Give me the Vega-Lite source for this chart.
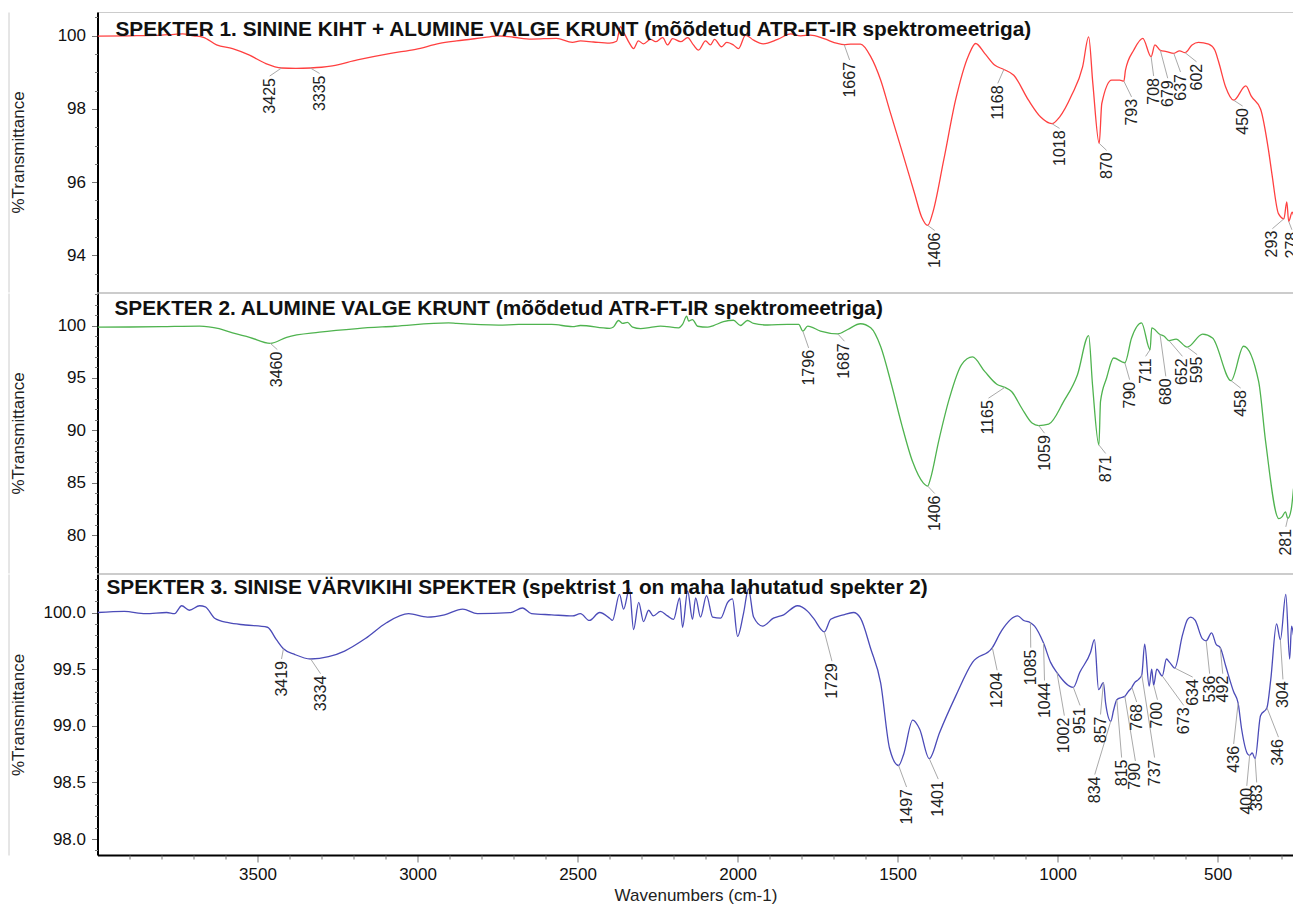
{
  "$schema": "https://vega.github.io/schema/vega-lite/v6.json",
  "padding": {"left": 7.5, "top": 11, "right": 0, "bottom": 0},
  "spacing": -3,
  "config": {
    "font": "Liberation Sans",
    "view": {"stroke": "#cccccc", "strokeWidth": 1},
    "axis": {
      "grid": false,
      "labelFontSize": 17,
      "labelColor": "#111111",
      "titleFontSize": 17,
      "titleFontWeight": "normal",
      "titleColor": "#222222",
      "domainColor": "#000000",
      "domainWidth": 2,
      "tickColor": "#777777",
      "tickWidth": 1,
      "labelOverlap": false,
      "labelFlush": false,
      "labelBound": false
    },
    "title": {"font": "Liberation Sans", "fontSize": 20.8, "fontWeight": "bold", "color": "#111111", "anchor": "start", "frame": "group", "baseline": "alphabetic"}
  },
  "datasets": {
    "s1": [
      {"w":4000,"t":99.99},{"w":3900,"t":100.0},{"w":3800,"t":100.02},{"w":3760,"t":100.04},{"w":3734,"t":100.05},{"w":3700,"t":100.0},{"w":3669,"t":99.96},{"w":3628,"t":99.75},{"w":3578,"t":99.65},{"w":3525,"t":99.47},{"w":3474,"t":99.24},{"w":3425,"t":99.12},{"w":3380,"t":99.11},{"w":3335,"t":99.12},{"w":3300,"t":99.14},{"w":3266,"t":99.18},{"w":3188,"t":99.34},{"w":3084,"t":99.52},{"w":3006,"t":99.63},{"w":2931,"t":99.79},{"w":2878,"t":99.86},{"w":2775,"t":99.97},{"w":2750,"t":100.0},{"w":2700,"t":99.96},{"w":2644,"t":99.91},{"w":2566,"t":99.93},{"w":2516,"t":99.82},{"w":2491,"t":99.86},{"w":2450,"t":99.83},{"w":2400,"t":99.8},{"w":2378,"t":99.85},{"w":2366,"t":100.25},{"w":2356,"t":100.1},{"w":2338,"t":99.8},{"w":2325,"t":99.65},{"w":2310,"t":99.86},{"w":2294,"t":99.78},{"w":2272,"t":99.9},{"w":2256,"t":99.84},{"w":2234,"t":99.95},{"w":2219,"t":99.75},{"w":2203,"t":99.92},{"w":2178,"t":99.84},{"w":2156,"t":99.95},{"w":2138,"t":99.75},{"w":2122,"t":99.61},{"w":2100,"t":99.86},{"w":2085,"t":99.75},{"w":2072,"t":99.9},{"w":2050,"t":99.7},{"w":2034,"t":99.82},{"w":2013,"t":99.75},{"w":1997,"t":99.65},{"w":1975,"t":100.02},{"w":1950,"t":99.88},{"w":1920,"t":99.78},{"w":1875,"t":99.9},{"w":1834,"t":100.05},{"w":1803,"t":100.0},{"w":1772,"t":100.02},{"w":1730,"t":99.92},{"w":1688,"t":99.79},{"w":1667,"t":99.76},{"w":1647,"t":99.77},{"w":1616,"t":99.77},{"w":1584,"t":99.43},{"w":1553,"t":98.79},{"w":1525,"t":97.97},{"w":1487,"t":96.87},{"w":1447,"t":95.69},{"w":1425,"t":95.05},{"w":1406,"t":94.82},{"w":1391,"t":95.14},{"w":1356,"t":96.6},{"w":1319,"t":98.24},{"w":1278,"t":99.47},{"w":1256,"t":99.79},{"w":1228,"t":99.52},{"w":1197,"t":99.2},{"w":1168,"t":99.08},{"w":1137,"t":98.92},{"w":1091,"t":98.24},{"w":1053,"t":97.78},{"w":1018,"t":97.6},{"w":994,"t":97.78},{"w":956,"t":98.38},{"w":922,"t":99.15},{"w":903,"t":99.97},{"w":890,"t":98.7},{"w":870,"t":97.06},{"w":862,"t":98.15},{"w":831,"t":98.79},{"w":806,"t":98.79},{"w":793,"t":98.76},{"w":788,"t":99.06},{"w":762,"t":99.61},{"w":734,"t":99.93},{"w":708,"t":99.43},{"w":696,"t":99.75},{"w":679,"t":99.6},{"w":660,"t":99.57},{"w":637,"t":99.52},{"w":619,"t":99.59},{"w":602,"t":99.54},{"w":580,"t":99.75},{"w":560,"t":99.82},{"w":528,"t":99.77},{"w":509,"t":99.61},{"w":497,"t":99.29},{"w":475,"t":98.6},{"w":450,"t":98.24},{"w":412,"t":98.63},{"w":395,"t":98.35},{"w":366,"t":98.0},{"w":341,"t":96.87},{"w":330,"t":96.2},{"w":310,"t":95.14},{"w":293,"t":95.0},{"w":284,"t":95.46},{"w":278,"t":94.93},{"w":267,"t":95.18},{"w":263,"t":95.1}
    ],
    "s2": [
      {"w":4000,"t":99.85},{"w":3900,"t":99.86},{"w":3800,"t":99.9},{"w":3681,"t":99.95},{"w":3620,"t":99.7},{"w":3578,"t":99.3},{"w":3525,"t":98.88},{"w":3460,"t":98.3},{"w":3409,"t":98.88},{"w":3306,"t":99.36},{"w":3188,"t":99.71},{"w":3072,"t":99.93},{"w":2903,"t":100.25},{"w":2878,"t":100.2},{"w":2747,"t":100.04},{"w":2684,"t":100.1},{"w":2581,"t":100.1},{"w":2516,"t":99.9},{"w":2491,"t":100.0},{"w":2400,"t":99.72},{"w":2388,"t":99.85},{"w":2372,"t":100.48},{"w":2359,"t":100.2},{"w":2344,"t":100.3},{"w":2328,"t":99.84},{"w":2303,"t":99.7},{"w":2272,"t":99.82},{"w":2241,"t":99.95},{"w":2184,"t":99.78},{"w":2172,"t":100.1},{"w":2159,"t":100.89},{"w":2153,"t":100.42},{"w":2141,"t":100.57},{"w":2125,"t":99.93},{"w":2094,"t":99.84},{"w":2075,"t":100.0},{"w":2044,"t":100.36},{"w":2013,"t":100.5},{"w":1991,"t":100.0},{"w":1969,"t":100.48},{"w":1950,"t":100.2},{"w":1906,"t":100.05},{"w":1844,"t":100.1},{"w":1809,"t":100.1},{"w":1796,"t":99.46},{"w":1781,"t":99.95},{"w":1741,"t":99.46},{"w":1687,"t":99.2},{"w":1656,"t":99.62},{"w":1616,"t":100.17},{"w":1584,"t":99.78},{"w":1553,"t":98.0},{"w":1519,"t":94.35},{"w":1487,"t":90.53},{"w":1453,"t":87.0},{"w":1420,"t":85.0},{"w":1406,"t":84.69},{"w":1397,"t":85.42},{"w":1372,"t":88.93},{"w":1338,"t":93.07},{"w":1300,"t":96.27},{"w":1266,"t":97.0},{"w":1228,"t":95.63},{"w":1190,"t":94.4},{"w":1165,"t":94.1},{"w":1144,"t":93.71},{"w":1112,"t":92.11},{"w":1080,"t":90.7},{"w":1059,"t":90.46},{"w":1028,"t":90.59},{"w":981,"t":92.76},{"w":938,"t":95.31},{"w":903,"t":99.04},{"w":891,"t":94.35},{"w":871,"t":88.61},{"w":866,"t":92.76},{"w":847,"t":94.99},{"w":825,"t":96.9},{"w":790,"t":96.45},{"w":769,"t":98.81},{"w":738,"t":100.25},{"w":711,"t":97.7},{"w":706,"t":99.78},{"w":680,"t":99.14},{"w":668,"t":99.0},{"w":652,"t":98.56},{"w":630,"t":98.7},{"w":595,"t":97.93},{"w":547,"t":99.17},{"w":516,"t":98.81},{"w":458,"t":94.74},{"w":419,"t":98.02},{"w":372,"t":94.67},{"w":350,"t":88.9},{"w":309,"t":81.59},{"w":299,"t":81.75},{"w":288,"t":82.23},{"w":281,"t":81.6},{"w":270,"t":82.5},{"w":263,"t":84.46}
    ],
    "s3": [
      {"w":4000,"t":100.0},{"w":3916,"t":100.01},{"w":3850,"t":99.99},{"w":3784,"t":100.0},{"w":3759,"t":99.99},{"w":3737,"t":100.06},{"w":3713,"t":100.02},{"w":3681,"t":100.06},{"w":3663,"t":100.05},{"w":3634,"t":99.95},{"w":3591,"t":99.91},{"w":3538,"t":99.89},{"w":3469,"t":99.87},{"w":3441,"t":99.76},{"w":3419,"t":99.68},{"w":3384,"t":99.63},{"w":3334,"t":99.59},{"w":3278,"t":99.61},{"w":3228,"t":99.66},{"w":3163,"t":99.77},{"w":3097,"t":99.91},{"w":3028,"t":99.99},{"w":2969,"t":99.96},{"w":2916,"t":99.98},{"w":2859,"t":100.03},{"w":2813,"t":99.99},{"w":2709,"t":100.0},{"w":2672,"t":100.04},{"w":2644,"t":99.99},{"w":2581,"t":99.98},{"w":2516,"t":99.97},{"w":2491,"t":99.99},{"w":2463,"t":99.93},{"w":2431,"t":100.0},{"w":2400,"t":99.95},{"w":2391,"t":99.93},{"w":2369,"t":100.16},{"w":2356,"t":100.03},{"w":2338,"t":100.21},{"w":2325,"t":99.85},{"w":2309,"t":100.09},{"w":2294,"t":99.92},{"w":2278,"t":100.02},{"w":2263,"t":99.97},{"w":2241,"t":100.01},{"w":2219,"t":99.97},{"w":2200,"t":99.94},{"w":2181,"t":100.13},{"w":2172,"t":99.87},{"w":2156,"t":100.19},{"w":2141,"t":99.94},{"w":2131,"t":100.13},{"w":2116,"t":99.96},{"w":2097,"t":100.15},{"w":2078,"t":99.96},{"w":2053,"t":99.95},{"w":2031,"t":100.09},{"w":2016,"t":100.12},{"w":2000,"t":99.79},{"w":1981,"t":100.0},{"w":1966,"t":100.21},{"w":1950,"t":99.96},{"w":1922,"t":99.88},{"w":1888,"t":99.95},{"w":1856,"t":99.98},{"w":1813,"t":100.06},{"w":1781,"t":100.01},{"w":1763,"t":99.95},{"w":1729,"t":99.83},{"w":1709,"t":99.94},{"w":1669,"t":99.98},{"w":1638,"t":100.0},{"w":1616,"t":99.95},{"w":1584,"t":99.68},{"w":1553,"t":99.38},{"w":1525,"t":98.8},{"w":1497,"t":98.65},{"w":1481,"t":98.75},{"w":1453,"t":99.05},{"w":1431,"t":98.97},{"w":1401,"t":98.71},{"w":1369,"t":98.94},{"w":1319,"t":99.26},{"w":1266,"t":99.56},{"w":1204,"t":99.69},{"w":1175,"t":99.84},{"w":1125,"t":99.97},{"w":1106,"t":99.93},{"w":1085,"t":99.91},{"w":1072,"t":99.88},{"w":1044,"t":99.73},{"w":1022,"t":99.56},{"w":1002,"t":99.47},{"w":951,"t":99.34},{"w":931,"t":99.47},{"w":897,"t":99.65},{"w":885,"t":99.76},{"w":872,"t":99.32},{"w":857,"t":99.38},{"w":850,"t":99.2},{"w":834,"t":99.04},{"w":825,"t":99.14},{"w":815,"t":99.23},{"w":800,"t":99.25},{"w":790,"t":99.26},{"w":780,"t":99.3},{"w":768,"t":99.34},{"w":760,"t":99.38},{"w":747,"t":99.41},{"w":737,"t":99.45},{"w":728,"t":99.72},{"w":714,"t":99.35},{"w":706,"t":99.5},{"w":700,"t":99.36},{"w":690,"t":99.5},{"w":673,"t":99.44},{"w":660,"t":99.59},{"w":650,"t":99.56},{"w":634,"t":99.51},{"w":610,"t":99.8},{"w":594,"t":99.94},{"w":584,"t":99.96},{"w":570,"t":99.93},{"w":548,"t":99.77},{"w":536,"t":99.75},{"w":519,"t":99.82},{"w":505,"t":99.72},{"w":492,"t":99.69},{"w":475,"t":99.53},{"w":450,"t":99.3},{"w":436,"t":99.2},{"w":425,"t":98.97},{"w":406,"t":98.75},{"w":400,"t":98.74},{"w":392,"t":98.76},{"w":383,"t":98.71},{"w":366,"t":99.09},{"w":346,"t":99.16},{"w":334,"t":99.41},{"w":316,"t":99.9},{"w":304,"t":99.76},{"w":287,"t":100.16},{"w":275,"t":99.59},{"w":269,"t":99.88},{"w":263,"t":99.8}
    ],
    "p1": [
      {"w":3425,"t":99.12,"lw":3462,"lt":98.9},{"w":3335,"t":99.12,"lw":3306,"lt":98.97},{"w":1667,"t":99.76,"lw":1650,"lt":99.34},{"w":1406,"t":94.82,"lw":1384,"lt":94.68},{"w":1168,"t":99.08,"lw":1187,"lt":98.7},{"w":1018,"t":97.6,"lw":994,"lt":97.47},{"w":870,"t":97.06,"lw":847,"lt":96.87},{"w":793,"t":98.76,"lw":769,"lt":98.33},{"w":708,"t":99.43,"lw":700,"lt":98.9},{"w":679,"t":99.6,"lw":656,"lt":98.84},{"w":637,"t":99.52,"lw":616,"lt":99.01},{"w":602,"t":99.54,"lw":566,"lt":99.29},{"w":450,"t":98.24,"lw":422,"lt":98.08},{"w":293,"t":95.0,"lw":329,"lt":94.73},{"w":278,"t":94.93,"lw":268,"lt":94.7}
    ],
    "p2": [
      {"w":3460,"t":98.3,"lw":3438,"lt":97.7},{"w":1796,"t":99.46,"lw":1778,"lt":97.86},{"w":1687,"t":99.2,"lw":1666,"lt":98.5},{"w":1406,"t":84.69,"lw":1384,"lt":83.98},{"w":1165,"t":94.1,"lw":1216,"lt":93.07},{"w":1059,"t":90.46,"lw":1041,"lt":89.73},{"w":871,"t":88.61,"lw":850,"lt":87.8},{"w":790,"t":96.45,"lw":775,"lt":94.83},{"w":711,"t":97.7,"lw":725,"lt":97.06},{"w":680,"t":99.14,"lw":662,"lt":95.15},{"w":652,"t":98.56,"lw":610,"lt":97.06},{"w":595,"t":97.93,"lw":564,"lt":97.22},{"w":458,"t":94.74,"lw":428,"lt":94.03},{"w":281,"t":81.6,"lw":287,"lt":80.8}
    ],
    "p3": [
      {"w":3419,"t":99.68,"lw":3425,"lt":99.59},{"w":3334,"t":99.59,"lw":3303,"lt":99.46},{"w":1729,"t":99.83,"lw":1705,"lt":99.57},{"w":1497,"t":98.65,"lw":1472,"lt":98.46},{"w":1401,"t":98.71,"lw":1373,"lt":98.53},{"w":1204,"t":99.69,"lw":1189,"lt":99.49},{"w":1085,"t":99.91,"lw":1084,"lt":99.69},{"w":1044,"t":99.73,"lw":1041,"lt":99.4},{"w":1002,"t":99.47,"lw":979,"lt":99.09},{"w":951,"t":99.34,"lw":930,"lt":99.18},{"w":857,"t":99.38,"lw":866,"lt":99.1},{"w":834,"t":99.04,"lw":884,"lt":98.57},{"w":815,"t":99.23,"lw":800,"lt":98.72},{"w":790,"t":99.26,"lw":757,"lt":98.69},{"w":768,"t":99.34,"lw":753,"lt":99.21},{"w":737,"t":99.45,"lw":697,"lt":98.72},{"w":700,"t":99.36,"lw":688,"lt":99.23},{"w":673,"t":99.44,"lw":606,"lt":99.18},{"w":634,"t":99.51,"lw":578,"lt":99.43},{"w":536,"t":99.75,"lw":525,"lt":99.46},{"w":492,"t":99.69,"lw":484,"lt":99.46},{"w":436,"t":99.2,"lw":450,"lt":98.84},{"w":400,"t":98.74,"lw":409,"lt":98.47},{"w":383,"t":98.71,"lw":378,"lt":98.5},{"w":346,"t":99.16,"lw":310,"lt":98.9},{"w":304,"t":99.76,"lw":296,"lt":99.41}
    ]
  },
  "vconcat": [
    {
      "width": 1196,
      "height": 280,
      "title": {"text": "SPEKTER 1. SININE KIHT + ALUMINE VALGE KRUNT (mõõdetud ATR-FT-IR spektromeetriga)", "offset": -29, "dx": 18},
      "resolve": {"axis": {"x": "independent", "y": "independent"}},
      "layer": [
        {
          "data": {"name": "s1"},
          "mark": {"type": "line", "color": "#ff4040", "strokeWidth": 1.3, "interpolate": "monotone", "clip": true},
          "encoding": {
            "x": {"field": "w", "type": "quantitative", "scale": {"domain": [263, 4000], "reverse": true, "nice": false, "zero": false}, "axis": null},
            "y": {"field": "t", "type": "quantitative", "title": "%Transmittance", "scale": {"domain": [93.0, 100.65], "nice": false, "zero": false},
              "axis": {"orient": "left", "values": [94, 96, 98, 100], "format": "d", "tickSize": 6, "labelPadding": 6, "minExtent": 62, "maxExtent": 62, "titlePadding": 8}}
          }
        },
        {
          "data": {"name": "p1"},
          "mark": {"type": "rule", "color": "#aaaaaa", "strokeWidth": 1, "clip": true},
          "encoding": {
            "x": {"field": "w", "type": "quantitative", "axis": null},
            "y": {"field": "t", "type": "quantitative", "axis": {"orient": "left", "values": [93.5,94.5,95,95.5,96.5,97,97.5,98.5,99,99.5,100.5], "labels": false, "domain": false, "tickSize": 3, "title": null, "minExtent": 62, "maxExtent": 62}},
            "x2": {"field": "lw"},
            "y2": {"field": "lt"}
          }
        },
        {
          "data": {"name": "p1"},
          "mark": {"type": "text", "angle": 270, "align": "right", "baseline": "middle", "dx": -2, "fontSize": 16, "color": "#222222", "clip": true},
          "encoding": {
            "x": {"field": "lw", "type": "quantitative", "axis": null},
            "y": {"field": "lt", "type": "quantitative", "axis": {"orient": "left", "offset": 89, "domainColor": "#cccccc", "domainWidth": 1, "ticks": false, "labels": false, "title": null}},
            "text": {"field": "w", "type": "quantitative", "format": "d"}
          }
        }
      ]
    },
    {
      "width": 1196,
      "height": 280,
      "title": {"text": "SPEKTER 2. ALUMINE VALGE KRUNT (mõõdetud ATR-FT-IR spektromeetriga)", "offset": -27, "dx": 17},
      "resolve": {"axis": {"x": "independent", "y": "independent"}},
      "layer": [
        {
          "data": {"name": "s2"},
          "mark": {"type": "line", "color": "#4fb34f", "strokeWidth": 1.3, "interpolate": "monotone", "clip": true},
          "encoding": {
            "x": {"field": "w", "type": "quantitative", "scale": {"domain": [263, 4000], "reverse": true, "nice": false, "zero": false}, "axis": null},
            "y": {"field": "t", "type": "quantitative", "title": "%Transmittance", "scale": {"domain": [76.4, 103.1], "nice": false, "zero": false},
              "axis": {"orient": "left", "values": [80, 85, 90, 95, 100], "format": "d", "tickSize": 6, "labelPadding": 6, "minExtent": 62, "maxExtent": 62, "titlePadding": 8}}
          }
        },
        {
          "data": {"name": "p2"},
          "mark": {"type": "rule", "color": "#aaaaaa", "strokeWidth": 1, "clip": true},
          "encoding": {
            "x": {"field": "w", "type": "quantitative", "axis": null},
            "y": {"field": "t", "type": "quantitative", "axis": {"orient": "left", "values": [77,78,79,81,82,83,84,86,87,88,89,91,92,93,94,96,97,98,99,101,102,103], "labels": false, "domain": false, "tickSize": 3, "title": null, "minExtent": 62, "maxExtent": 62}},
            "x2": {"field": "lw"},
            "y2": {"field": "lt"}
          }
        },
        {
          "data": {"name": "p2"},
          "mark": {"type": "text", "angle": 270, "align": "right", "baseline": "middle", "dx": -2, "fontSize": 16, "color": "#222222", "clip": true},
          "encoding": {
            "x": {"field": "lw", "type": "quantitative", "axis": null},
            "y": {"field": "lt", "type": "quantitative", "axis": {"orient": "left", "offset": 89, "domainColor": "#cccccc", "domainWidth": 1, "ticks": false, "labels": false, "title": null}},
            "text": {"field": "w", "type": "quantitative", "format": "d"}
          }
        }
      ]
    },
    {
      "width": 1196,
      "height": 281,
      "title": {"text": "SPEKTER 3. SINISE VÄRVIKIHI SPEKTER (spektrist 1 on maha lahutatud spekter 2)", "offset": -25, "dx": 9},
      "resolve": {"axis": {"x": "independent", "y": "independent"}},
      "layer": [
        {
          "data": {"name": "s3"},
          "mark": {"type": "line", "color": "#4b4bb8", "strokeWidth": 1.3, "interpolate": "monotone", "clip": true},
          "encoding": {
            "x": {"field": "w", "type": "quantitative", "title": "Wavenumbers (cm-1)", "scale": {"domain": [263, 4000], "reverse": true, "nice": false, "zero": false},
              "axis": {"orient": "bottom", "values": [500, 1000, 1500, 2000, 2500, 3000, 3500], "format": "d", "tickSize": 7, "labelPadding": 4, "titlePadding": 5}},
            "y": {"field": "t", "type": "quantitative", "title": "%Transmittance", "scale": {"domain": [97.86, 100.34], "nice": false, "zero": false},
              "axis": {"orient": "left", "values": [98.0, 98.5, 99.0, 99.5, 100.0], "format": ".1f", "tickSize": 6, "labelPadding": 6, "minExtent": 62, "maxExtent": 62, "titlePadding": 8}}
          }
        },
        {
          "data": {"name": "p3"},
          "mark": {"type": "rule", "color": "#aaaaaa", "strokeWidth": 1, "clip": true},
          "encoding": {
            "x": {"field": "w", "type": "quantitative", "axis": {"orient": "bottom", "values": [300,400,600,700,800,900,1100,1200,1300,1400,1600,1700,1800,1900,2100,2200,2300,2400,2600,2700,2800,2900,3100,3200,3300,3400,3600,3700,3800,3900], "labels": false, "domain": false, "tickSize": 4, "title": null}},
            "y": {"field": "t", "type": "quantitative", "axis": {"orient": "left", "values": [97.9,98.1,98.2,98.3,98.4,98.6,98.7,98.8,98.9,99.1,99.2,99.3,99.4,99.6,99.7,99.8,99.9,100.1,100.2,100.3], "labels": false, "domain": false, "tickSize": 3, "title": null, "minExtent": 62, "maxExtent": 62}},
            "x2": {"field": "lw"},
            "y2": {"field": "lt"}
          }
        },
        {
          "data": {"name": "p3"},
          "mark": {"type": "text", "angle": 270, "align": "right", "baseline": "middle", "dx": -2, "fontSize": 16, "color": "#222222", "clip": true},
          "encoding": {
            "x": {"field": "lw", "type": "quantitative", "axis": null},
            "y": {"field": "lt", "type": "quantitative", "axis": {"orient": "left", "offset": 89, "domainColor": "#cccccc", "domainWidth": 1, "ticks": false, "labels": false, "title": null}},
            "text": {"field": "w", "type": "quantitative", "format": "d"}
          }
        }
      ]
    }
  ]
}
